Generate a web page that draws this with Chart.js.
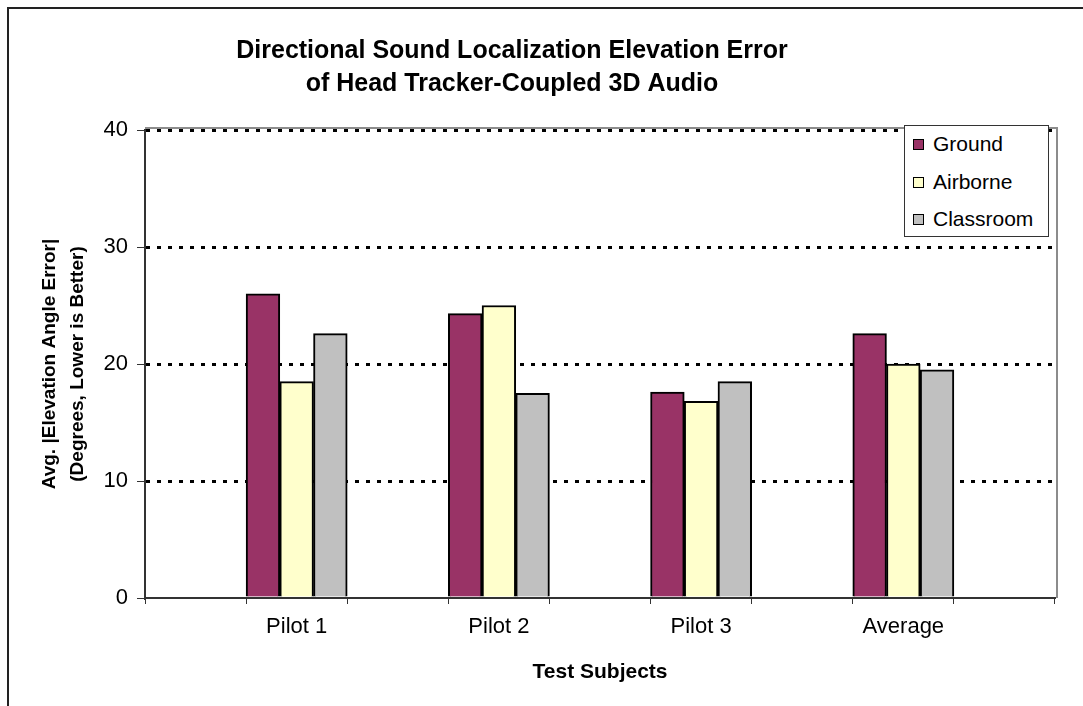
<!DOCTYPE html>
<html>
<head>
<meta charset="utf-8">
<script src="https://cdn.jsdelivr.net/npm/chart.js@4.4.1/dist/chart.umd.min.js"></script>
<style>
    html, body { margin: 0; padding: 0; background: #fff; overflow: hidden; }
    #wrap { position: relative; width: 1083px; height: 706px; overflow: hidden; }
    #chart { position: absolute; left: -31px; top: 0; }
    #frame { position: absolute; left: 7px; top: 7px; width: 1200px; height: 800px;
             border-top: 2px solid #222; border-left: 2px solid #222; }
    #legend { position: absolute; left: 904px; top: 125px; width: 143px; height: 110px;
              border: 1px solid #333; background: #fff;
              font-family: 'Liberation Sans', Arial, sans-serif; font-size: 21px; color: #000; }
    .item { position: absolute; left: 0; height: 24px; line-height: 24px; white-space: nowrap; }
    .swatch { position: absolute; left: 8px; top: 7px; width: 9px; height: 9px; border: 1px solid #000; }
    .lbl { position: absolute; left: 28px; top: 0; }
</style>
</head>
<body>
<div id="wrap">
    <canvas id="chart" width="1096" height="706"></canvas>
    <div id="frame"></div>
    <div id="legend"></div>
</div>
<script>
const subjects = ['Pilot 1', 'Pilot 2', 'Pilot 3', 'Average'];
const seriesNames = ['Ground', 'Airborne', 'Classroom'];
const seriesColors = ['#993366', '#FFFFCC', '#C0C0C0'];
const groundErr = [26.0, 24.3, 17.6, 22.6];
const airborneErr = [18.5, 25.0, 16.8, 20.0];
const classroomErr = [22.6, 17.5, 18.5, 19.5];
const yMax = 40;
const yStep = 10;

// the original sheet has an empty category before, between and after the groups
function spaced(arr, blank) {
    var out = [blank];
    arr.forEach(function(v) { out.push(v, blank); });
    return out;
}

Chart.defaults.font.family = "'Liberation Sans', Arial, sans-serif";
Chart.defaults.color = '#000';

// grey plot-area edge on top and right, like the spreadsheet
const plotFrame = {
    id: 'plotFrame',
    beforeDatasetsDraw: function(chart) {
        var a = chart.chartArea;
        var ctx = chart.ctx;
        ctx.save();
        ctx.strokeStyle = '#8c8c8c';
        ctx.lineWidth = 2;
        ctx.beginPath();
        ctx.moveTo(a.left, a.top - 2);
        ctx.lineTo(a.right + 2, a.top - 2);
        ctx.lineTo(a.right + 2, a.bottom);
        ctx.stroke();
        ctx.restore();
    }
};

var seriesData = [groundErr, airborneErr, classroomErr];

new Chart(document.getElementById('chart'), {
    type: 'bar',
    data: {
        labels: spaced(subjects, ''),
        datasets: seriesNames.map(function(name, i) {
            return {
                label: name,
                data: spaced(seriesData[i], null),
                backgroundColor: seriesColors[i],
                borderColor: '#000',
                borderWidth: 2,
                categoryPercentage: 1.0,
                barPercentage: 1.0
            };
        })
    },
    options: {
        responsive: false,
        animation: false,
        layout: { padding: { left: 0, right: 10, top: 0, bottom: 0 } },
        plugins: {
            legend: { display: false },
            tooltip: { enabled: false },
            title: {
                display: true,
                text: ['Directional Sound Localization Elevation Error', 'of Head Tracker-Coupled 3D Audio'],
                color: '#000',
                font: { size: 25, weight: 'bold', lineHeight: 1.32 },
                padding: { top: 35, bottom: 29 }
            }
        },
        scales: {
            x: {
                offset: true,
                grid: { offset: true, drawOnChartArea: false, drawTicks: true, tickLength: 6, tickColor: '#333', tickWidth: 1 },
                border: { color: '#333', width: 2 },
                ticks: { autoSkip: false, maxRotation: 0, color: '#000', font: { size: 22 }, padding: 10 },
                title: {
                    display: true,
                    text: 'Test Subjects',
                    color: '#000',
                    font: { size: 21, weight: 'bold' },
                    padding: { top: 0, bottom: 21 }
                },
                afterFit: function(s) { s.height = 108; }
            },
            y: {
                min: 0,
                max: yMax,
                ticks: { stepSize: yStep, padding: 9, color: '#000', font: { size: 22 } },
                grid: {
                    color: function(c) { return c.tick && c.tick.value === 0 ? 'rgba(0,0,0,0)' : '#000'; },
                    lineWidth: 3,
                    tickColor: '#333',
                    tickWidth: 1,
                    tickBorderDash: [],
                    tickLength: 8
                },
                border: { color: '#333', width: 2, dash: [4, 7] },
                title: {
                    display: true,
                    text: ['Avg. |Elevation Angle Error|', '(Degrees, Lower is Better)'],
                    color: '#000',
                    font: { size: 19, weight: 'bold', lineHeight: 28 / 19 },
                    padding: { top: 67, bottom: 0 }
                },
                afterFit: function(s) { s.width = 176; }
            }
        }
    },
    plugins: [plotFrame]
});

// legend box sits inside the plot, top right
var legendTops = [6, 44, 81];
document.getElementById('legend').innerHTML = seriesNames.map(function(name, i) {
    return '<div class="item" style="top:' + legendTops[i] + 'px">' +
        '<div class="swatch" style="background:' + seriesColors[i] + '"></div>' +
        '<span class="lbl">' + name + '</span>' +
        '</div>';
}).join('');
</script>
</body>
</html>
